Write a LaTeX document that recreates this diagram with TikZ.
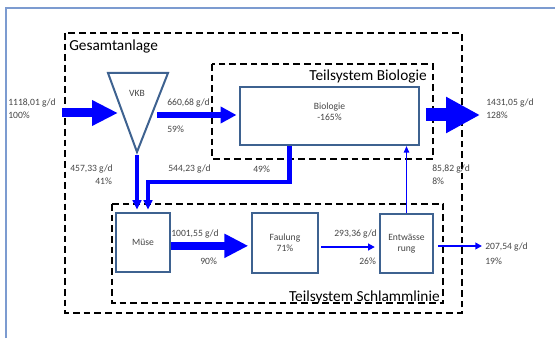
\documentclass[tikz,border=0pt]{standalone}
\usepackage{fontspec}
\setmainfont{Carlito}
\usetikzlibrary{arrows.meta}
\definecolor{flowblue}{HTML}{0000FF}
\definecolor{boxedge}{HTML}{3E6290}
\definecolor{framecol}{HTML}{7C9BD0}
\definecolor{labelgray}{HTML}{454545}
\begin{document}
\begin{tikzpicture}[x=0.75pt, y=-0.75pt,
  procbox/.style={draw=boxedge, line width=1.5pt, rectangle, inner sep=1pt, align=center, text=labelgray, font=\fontsize{7.2}{8.4}\selectfont},
  flowtext/.style={anchor=west, inner sep=0pt, text=labelgray, font=\fontsize{7.2}{8.4}\selectfont},
  systext/.style={inner sep=0pt, font=\fontsize{11.5}{13}\selectfont},
  sysbox/.style={draw, line width=1.3pt, dash pattern=on 5pt off 3pt},
  bigflow/.style={flowblue, line width=#1},
  thinflow/.style={flowblue, line width=#1, -{Triangle[width=5pt,length=5pt]}}]
  \useasboundingbox (0,0) rectangle (555,338);
  \draw [framecol, line width=0.8pt] (6,338) -- (6,8) -- (555,8);

  \draw [sysbox] (65,33) rectangle (462,313);
  \draw [sysbox] (212,64) rectangle (433,159);
  \draw [sysbox] (112,204) rectangle (443,303);
  \node (gesamt) [systext, anchor=west] at (69,46) {Gesamtanlage};
  \node (teilbio) [systext, anchor=east] at (427,76) {Teilsystem Biologie};
  \node (teilschlamm) [systext, anchor=east] at (440,297) {Teilsystem Schlammlinie};

  \draw [boxedge, line width=1.5pt, line join=miter] (108,73) -- (168,73) -- (137,152) -- cycle;
  \node (vkb) [text=labelgray, font=\fontsize{7.2}{8.4}\selectfont] at (137,93) {VKB};
  \coordinate (vkbin) at (118,113);
  \coordinate (vkbout) at (157,115);
  \coordinate (vkbtip) at (137,155);

  \node (bio) [procbox, minimum width=134pt, minimum height=43.5pt,
    label={[procbox, draw=none, yshift=3.5pt]center:Biologie\\-165\%}] at (329.5,116) {};
  \node (muse) [procbox, minimum width=40.5pt, minimum height=44pt] at (143,242.5) {Müse};
  \node (faul) [procbox, minimum width=49.5pt, minimum height=45pt] at (285,243) {Faulung\\71\%};
  \node (entw) [procbox, minimum width=40pt, minimum height=44pt] at (406.5,243.5) {Entwässe\\rung};

  \coordinate (zulauf) at (62,113);
  \coordinate (ablauf) at (480,115);
  \coordinate (schlamm) at (482,246);

  \draw [bigflow=6.75pt, -{Triangle[width=18pt,length=19.5pt]}] (zulauf) -- (vkbin);
  \draw [bigflow=5pt, -{Triangle[width=12pt,length=12pt]}, shorten >=2pt] (vkbout) -- (vkbout -| bio.west);
  \draw [bigflow=9.75pt, -{Triangle[width=25.5pt,length=25.5pt]}, shorten <=4.5pt] (bio.east |- ablauf) -- (ablauf);
  \draw [bigflow=3pt, -{Triangle[width=6.5pt,length=7pt]}, shorten >=2pt] (vkbtip) -- (vkbtip |- muse.north);
  \draw [bigflow=3.3pt, -{Triangle[width=6.5pt,length=7pt]}, shorten >=2pt] ([xshift=-30pt]bio.south) -- ++(0,36) -| ([xshift=3.75pt]muse.north);
  \draw [bigflow=6pt, -{Triangle[width=17pt,length=18pt]}, shorten >=2pt] ([yshift=-2.5pt]muse.east) -- ([yshift=-2.5pt]muse.east -| faul.west);
  \draw [thinflow=1.5pt, shorten >=3pt, shorten <=1.5pt] ([yshift=-3pt]faul.east) -- ([yshift=-3pt]faul.east -| entw.west);
  \draw [thinflow=1.1pt, -{Triangle[width=4pt,length=5pt]}] (entw.north) -- (entw.north |- bio.south);
  \draw [thinflow=1.5pt, shorten <=3pt] (entw.east |- schlamm) -- (schlamm);

  \node (zulaufg) [flowtext] at (8,103) {1118,01 g/d};
  \node (zulaufp) [flowtext] at (8,115) {100\%};
  \node (biog) [flowtext] at (167,103) {660,68 g/d};
  \node (biop) [flowtext] at (167,129) {59\%};
  \node (vkbg) [flowtext] at (70,169) {457,33 g/d};
  \node (vkbp) [flowtext] at (95,181) {41\%};
  \node (rueckg) [flowtext] at (168,169) {544,23 g/d};
  \node (rueckp) [flowtext] at (253,169) {49\%};
  \node (ablaufg) [flowtext] at (486,103) {1431,05 g/d};
  \node (ablaufp) [flowtext] at (486,115) {128\%};
  \node (filtratg) [flowtext] at (432,169) {85,82 g/d};
  \node (filtratp) [flowtext] at (432,181) {8\%};
  \node (museg) [flowtext] at (171,234) {1001,55 g/d};
  \node (musep) [flowtext] at (200,261) {90\%};
  \node (faulg) [flowtext] at (334,234) {293,36 g/d};
  \node (faulp) [flowtext] at (359,261) {26\%};
  \node (schlammg) [flowtext] at (485,247) {207,54 g/d};
  \node (schlammp) [flowtext] at (485,261) {19\%};
\end{tikzpicture}
\end{document}
